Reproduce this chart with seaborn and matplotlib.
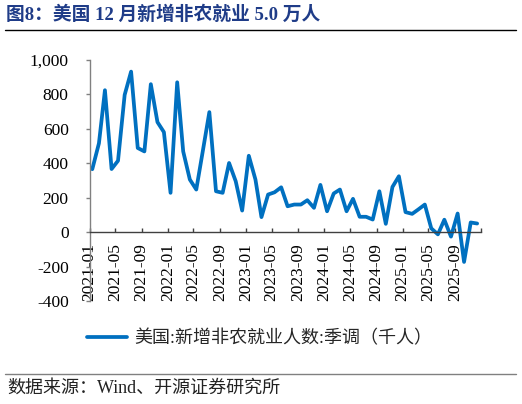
import numpy as np
import pandas as pd
import matplotlib
matplotlib.use('Agg')
import matplotlib.pyplot as plt
from matplotlib.lines import Line2D
from matplotlib.ticker import FuncFormatter
import seaborn as sns

# ---- data ----
months = pd.date_range('2021-01-01', '2025-12-01', freq='MS')
payrolls = [365, 515, 823, 366, 414, 796, 931, 488, 468, 858,
            638, 580, 228, 869, 468, 305, 247, 474, 696, 237,
            228, 401, 295, 125, 443, 305, 87, 218, 231, 260,
            150, 160, 160, 185, 141, 274, 121, 224, 247, 121,
            193, 89, 89, 73, 237, 48, 262, 324, 116, 106,
            131, 160, 22, -13, 72, -26, 108, -173, 56, 50]
tick_labels = ['2021-01', '2021-05', '2021-09', '2022-01', '2022-05', '2022-09',
               '2023-01', '2023-05', '2023-09', '2024-01', '2024-05', '2024-09',
               '2025-01', '2025-05', '2025-09', '']
tick_dates = ['2021-01', '2021-05', '2021-09', '2022-01', '2022-05', '2022-09',
              '2023-01', '2023-05', '2023-09', '2024-01', '2024-05', '2024-09',
              '2025-01', '2025-05', '2025-09', '2026-01']
y_ticks = [-400, -200, 0, 200, 400, 600, 800, 1000]
title = '图8：美国 12 月新增非农就业 5.0 万人'
series_name = '美国:新增非农就业人数:季调（千人）'
source = '数据来源：Wind、开源证券研究所'

sns.set_theme(style='white')
plt.rcParams['font.family'] = ['Liberation Serif', 'Noto Sans CJK SC']
plt.rcParams['axes.unicode_minus'] = False

W, H = 522, 404
fig = plt.figure(figsize=(W / 100, H / 100), dpi=100)
ax = fig.add_axes([89.5 / W, 1 - 301.1 / H, (481 - 89.5) / W, (301.1 - 59.7) / H])

df = pd.DataFrame({'date': months + pd.Timedelta(days=13),
                   'value': payrolls,
                   'series': series_name})
sns.lineplot(data=df, x='date', y='value', hue='series', palette=['#0070C0'],
             linewidth=2.7, ax=ax, legend=False)

ax.set_xlim(pd.Timestamp('2021-01-01'), pd.Timestamp('2026-01-01'))
ax.set_ylim(-400, 1000)
ax.set_xticks(pd.to_datetime(tick_dates))
ax.set_xticklabels(tick_labels)
ax.set_yticks(y_ticks)
ax.yaxis.set_major_formatter(FuncFormatter(lambda v, p: f'{v:,.0f}'))
ax.set_xlabel('')
ax.set_ylabel('')

for s in ['top', 'right']:
    ax.spines[s].set_visible(False)
ax.spines['bottom'].set_position(('data', 0))
ax.spines['bottom'].set_color('#404040')
ax.spines['bottom'].set_linewidth(1.0)
ax.spines['left'].set_color('#808080')
ax.spines['left'].set_linewidth(1.0)

ax.tick_params(axis='x', direction='in', length=3, width=1, color='#404040',
               pad=8, labelsize=12.5, labelcolor='black', bottom=True,
               labelrotation=90)
ax.tick_params(axis='y', direction='out', length=3, width=1, color='#808080',
               pad=12, labelsize=12.5, labelcolor='black', left=True)
for lab in ax.get_xticklabels():
    lab.set_rotation(90)
    lab.set_verticalalignment('top')
    lab.set_horizontalalignment('center')

handles = [Line2D([0], [0], color='#0070C0', lw=2.7)]
fig.legend(handles, [series_name], loc='center', bbox_to_anchor=(0.497, 1 - 339 / H),
           frameon=False, fontsize=13, handlelength=2.2, handletextpad=0.4)

fig.text(6 / W, 1 - 15 / H, title, fontsize=13.5, fontweight='bold',
         color='#1F3C88', va='center', ha='left')
fig.add_artist(Line2D([5 / W, 516 / W], [1 - 30 / H] * 2, color='black', lw=1.0))
fig.add_artist(Line2D([5 / W, 516 / W], [1 - 374 / H] * 2, color='#808080', lw=1.0))
fig.text(7 / W, 1 - 388 / H, source, fontsize=13, color='#222222', va='center', ha='left')

fig.savefig('out.png', dpi=100)
